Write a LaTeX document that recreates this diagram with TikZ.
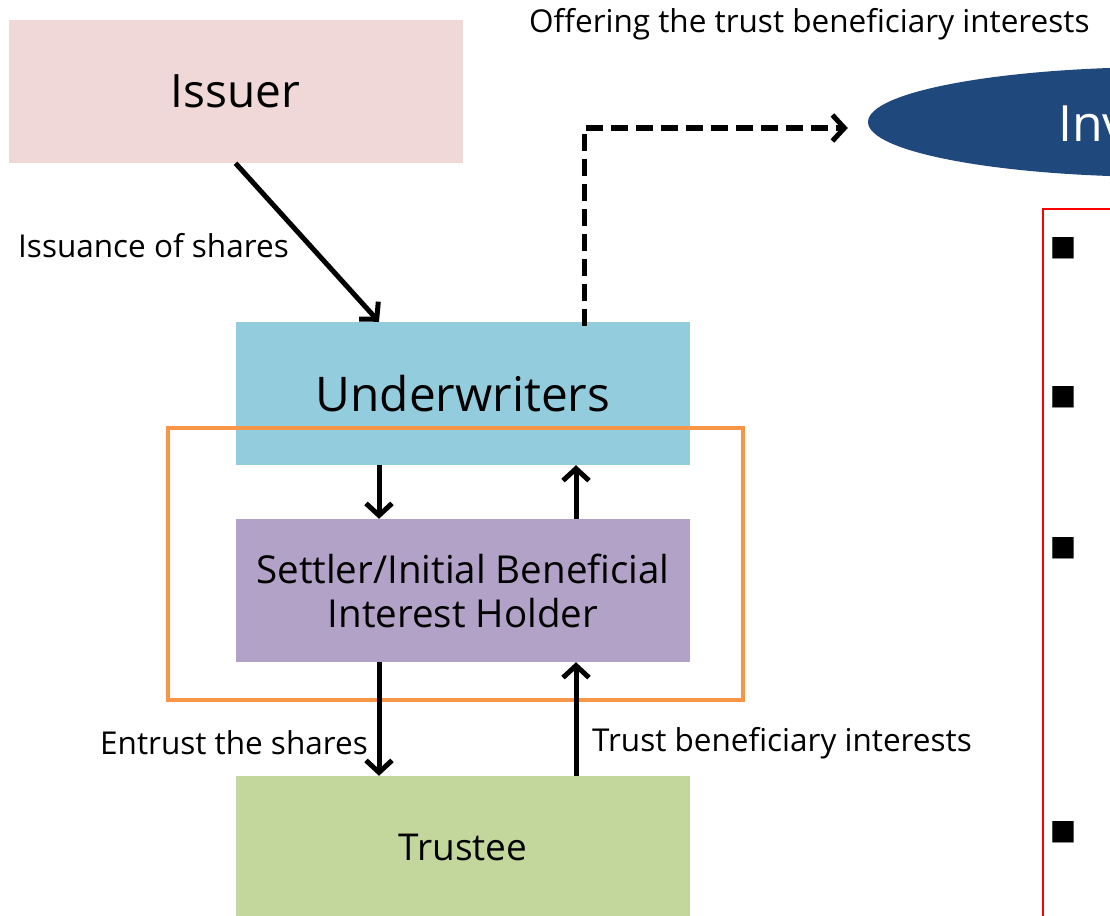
\documentclass[tikz,border=0pt]{standalone}
\usepackage{fontspec}
\setmainfont{Open Sans}
\newfontfamily\symfont{DejaVu Sans}
\usetikzlibrary{shapes.geometric,arrows.meta}

\definecolor{issuerpink}{HTML}{F0D8D8}
\definecolor{underblue}{HTML}{93CDDD}
\definecolor{settlerpurple}{HTML}{B2A2C7}
\definecolor{trusteegreen}{HTML}{C3D69B}
\definecolor{frameorange}{HTML}{F79646}
\definecolor{investnavy}{HTML}{1F497D}

\tikzset{
  party/.style={rectangle, minimum width=454pt, minimum height=143pt, inner sep=0pt, align=center},
  arr/.style={line width=5pt, -{Straight Barb[length=12pt,width=26pt]}},
  dasharr/.style={arr, dash pattern=on 17pt off 8pt},
  lbl/.style={font=\fontsize{31.5}{36}\selectfont, inner sep=0pt}
}

\begin{document}
\begin{tikzpicture}[x=1pt, y=-1pt]
  \useasboundingbox (0,0) rectangle (1110,915);
  \clip (0,0) rectangle (1110,915);

  % Draw the parties
  \node[party, fill=issuerpink, font=\fontsize{46}{54}\selectfont] (issuer) at (235.5,91.5) {Issuer};
  \node[party, fill=underblue, font=\fontsize{47.8}{56}\selectfont] (under) at (463,393.5) {Underwriters};
  \node[party, fill=settlerpurple, font=\fontsize{38.5}{44}\selectfont] (settler) at (463,590.5) {Settler/Initial Beneficial\\Interest Holder};
  \node[party, fill=trusteegreen, font=\fontsize{37}{42}\selectfont] (trustee) at (463,847.5) {Trustee};

  % Orange frame round the underwriters and the settler
  \node[draw=frameorange, line width=3.5pt, minimum width=575pt, minimum height=272pt, inner sep=0pt] (frame) at (455.5,564) {};

  % Investors and the notes beside them
  \node[ellipse, fill=investnavy, minimum width=596pt, minimum height=110pt] (inv) at (1166,122) {};
  \node[anchor=west, text=white, font=\fontsize{50}{58}\selectfont, inner sep=0pt] (invname) at (1058,124) {Inv};
  \node[draw=red, line width=2pt, minimum width=300pt, minimum height=800pt, inner sep=0pt, anchor=north west] (notes) at (1042,208) {};
  \foreach \y/\n in {248/a, 397/b, 548/c, 832/d}
    \node[font=\symfont\fontsize{28}{30}\selectfont, inner sep=0pt] (bullet\n) at (1063,\y) {■};

  % Connectors
  \coordinate (dn) at (379,0);
  \coordinate (up) at (576,0);
  \coordinate (offer) at (584,0);
  \draw[arr] (issuer.south) -- (under.north -| dn);
  \draw[dasharr] ([yshift=-4pt]under.north -| offer) |- ([xshift=-20pt,yshift=-6pt]inv.west);
  \draw[arr] (under.south -| dn) -- (settler.north -| dn);
  \draw[arr] (settler.north -| up) -- (under.south -| up);
  \draw[arr] (settler.south -| dn) -- (trustee.north -| dn);
  \draw[arr] (trustee.north -| up) -- (settler.south -| up);

  % Labels
  \node[lbl, anchor=west] (issuelbl) at (18,246) {Issuance of shares};
  \node[lbl, anchor=east] (entrustlbl) at (368,743) {Entrust the shares};
  \node[lbl, anchor=west] (trustlbl) at (592,743) {Trust beneficiary interests};
  \node[lbl, anchor=west] (offerlbl) at (529,24) {Offering the trust beneficiary interests};
\end{tikzpicture}
\end{document}
